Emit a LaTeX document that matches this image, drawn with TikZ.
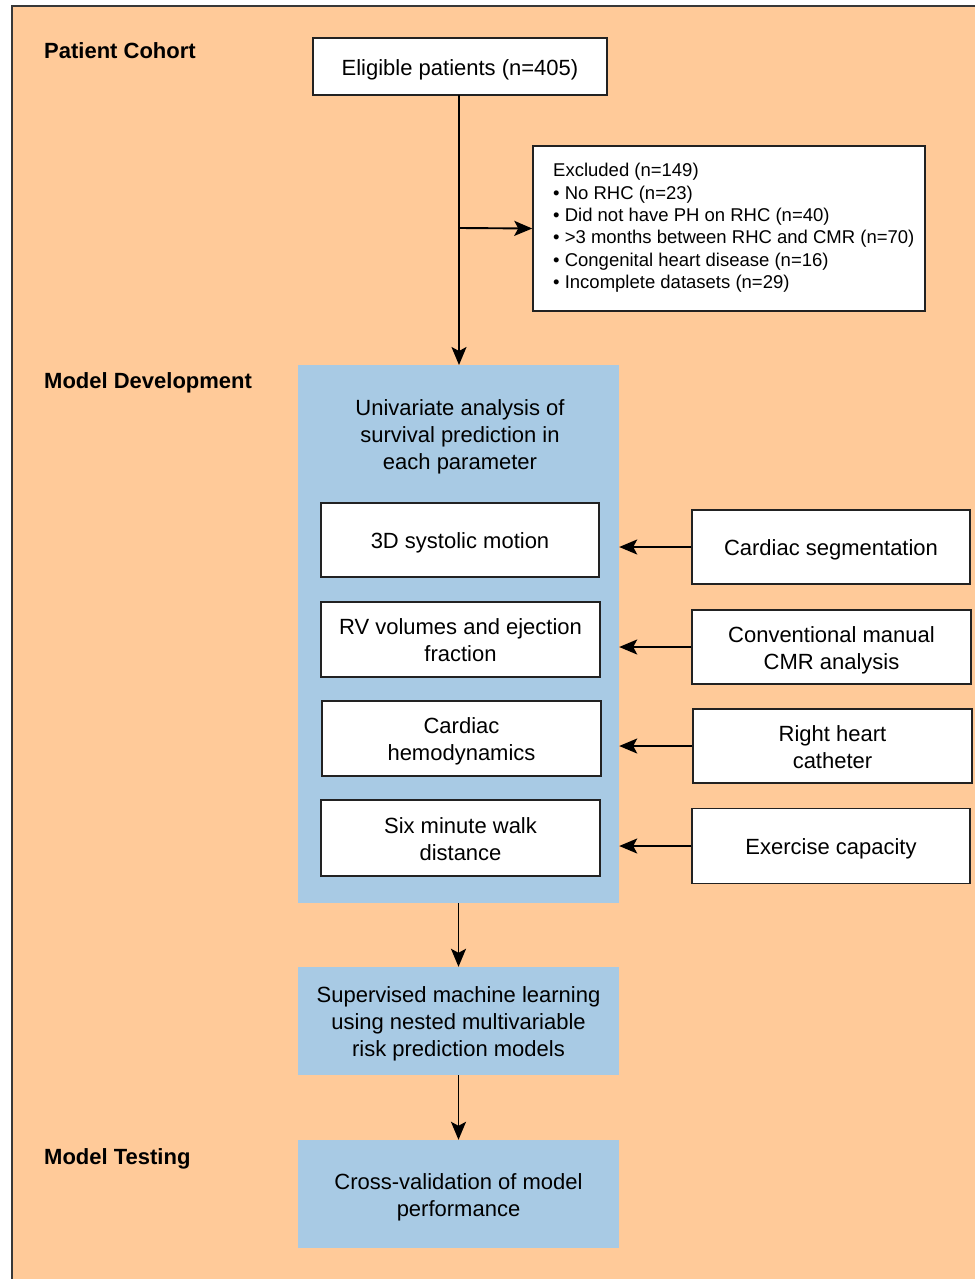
\documentclass[tikz,border=0pt]{standalone}
\usepackage{fontspec}
\setmainfont{Liberation Sans}
\usetikzlibrary{arrows.meta}
\definecolor{peach}{RGB}{255,202,153}
\definecolor{paleblue}{RGB}{168,202,228}
\definecolor{edge}{RGB}{34,34,34}
\newcommand{\mlines}[1]{\begin{tabular}{@{}c@{}}\rule{0pt}{25.5pt}#1\end{tabular}}
\begin{document}
\begin{tikzpicture}[x=1pt,y=-1pt,
  txt/.style={font=\fontsize{22}{27}\selectfont},
  wbox/.style={txt, draw=edge, line width=1.5pt, fill=white, inner sep=0pt},
  bbox/.style={txt, fill=paleblue, inner sep=0pt},
  head/.style={anchor=base west, inner sep=0pt, font=\bfseries\fontsize{22}{27}\selectfont},
  arr/.style={line width=1.9pt, draw=black, -{Stealth[length=18pt,width=15pt,inset=4pt]}}]
\useasboundingbox (0,0) rectangle (974,1279);
\fill[white] (0,0) rectangle (974,1279);
\filldraw[fill=peach, draw=edge!90, line width=2pt] (12,6) rectangle (995,1300);

% headings
\node[head] (h1) at (44,59) {Patient Cohort};
\node[head] (h2) at (44,388) {Model Development};
\node[head] (h3) at (44,1164) {Model Testing};

% cohort
\node[wbox, minimum width=294, minimum height=57] (elig) at (460,66.5) {\mlines{Eligible patients (n=405)}};
\node[wbox, minimum width=392, minimum height=165] (exc) at (729,228.5) {};
\node[anchor=west, inner sep=0pt, align=left, font=\fontsize{18.5}{22.4}\selectfont] (exctext) at (553,228)
  {Excluded (n=149)\\
   \textbullet\ No RHC (n=23)\\
   \textbullet\ Did not have PH on RHC (n=40)\\
   \textbullet\ >3 months between RHC and CMR (n=70)\\
   \textbullet\ Congenital heart disease (n=16)\\
   \textbullet\ Incomplete datasets (n=29)};

% model development
\node[bbox, minimum width=321, minimum height=538] (blue1) at (458.5,634) {};
\node[txt, inner sep=0pt] (utitle) at (460,434)
  {\mlines{Univariate analysis of\\survival prediction in\\each parameter}};
\node[wbox, minimum width=278, minimum height=74] (b1) at (460,540) {\mlines{3D systolic motion}};
\node[wbox, minimum width=279, minimum height=75] (b2) at (460.5,639.5) {\mlines{RV volumes and ejection\\fraction}};
\node[wbox, minimum width=279, minimum height=75] (b3) at (461.5,738.5) {\mlines{Cardiac\\hemodynamics}};
\node[wbox, minimum width=279, minimum height=76] (b4) at (460.5,838) {\mlines{Six minute walk\\distance}};

\node[wbox, minimum width=278, minimum height=74] (r1) at (831,547) {\mlines{Cardiac segmentation}};
\node[wbox, minimum width=279, minimum height=74] (r2) at (831.5,647) {\mlines{Conventional manual\\CMR analysis}};
\node[wbox, minimum width=279, minimum height=74] (r3) at (832.5,746) {\mlines{Right heart\\catheter}};
\node[wbox, minimum width=278, minimum height=75] (r4) at (831,846) {\mlines{Exercise capacity}};

\node[bbox, minimum width=321, minimum height=108] (blue2) at (458.5,1021)
  {\mlines{Supervised machine learning\\using nested multivariable\\risk prediction models}};
\node[bbox, minimum width=321, minimum height=108] (blue3) at (458.5,1194)
  {\mlines{Cross-validation of model\\performance}};

% connectors
\coordinate (br) at (459,228);
\draw[arr] (459,95) -- (459,365);
\draw[arr] (br) -- (exc.west);
\draw[arr] (r1.west) -- (r1.west -| blue1.east);
\draw[arr] (r2.west) -- (r2.west -| blue1.east);
\draw[arr] (r3.west) -- (r3.west -| blue1.east);
\draw[arr] (r4.west) -- (r4.west -| blue1.east);
\draw[arr] (blue1.south) -- (blue2.north);
\draw[arr] (blue2.south) -- (blue3.north);
\end{tikzpicture}
\end{document}
